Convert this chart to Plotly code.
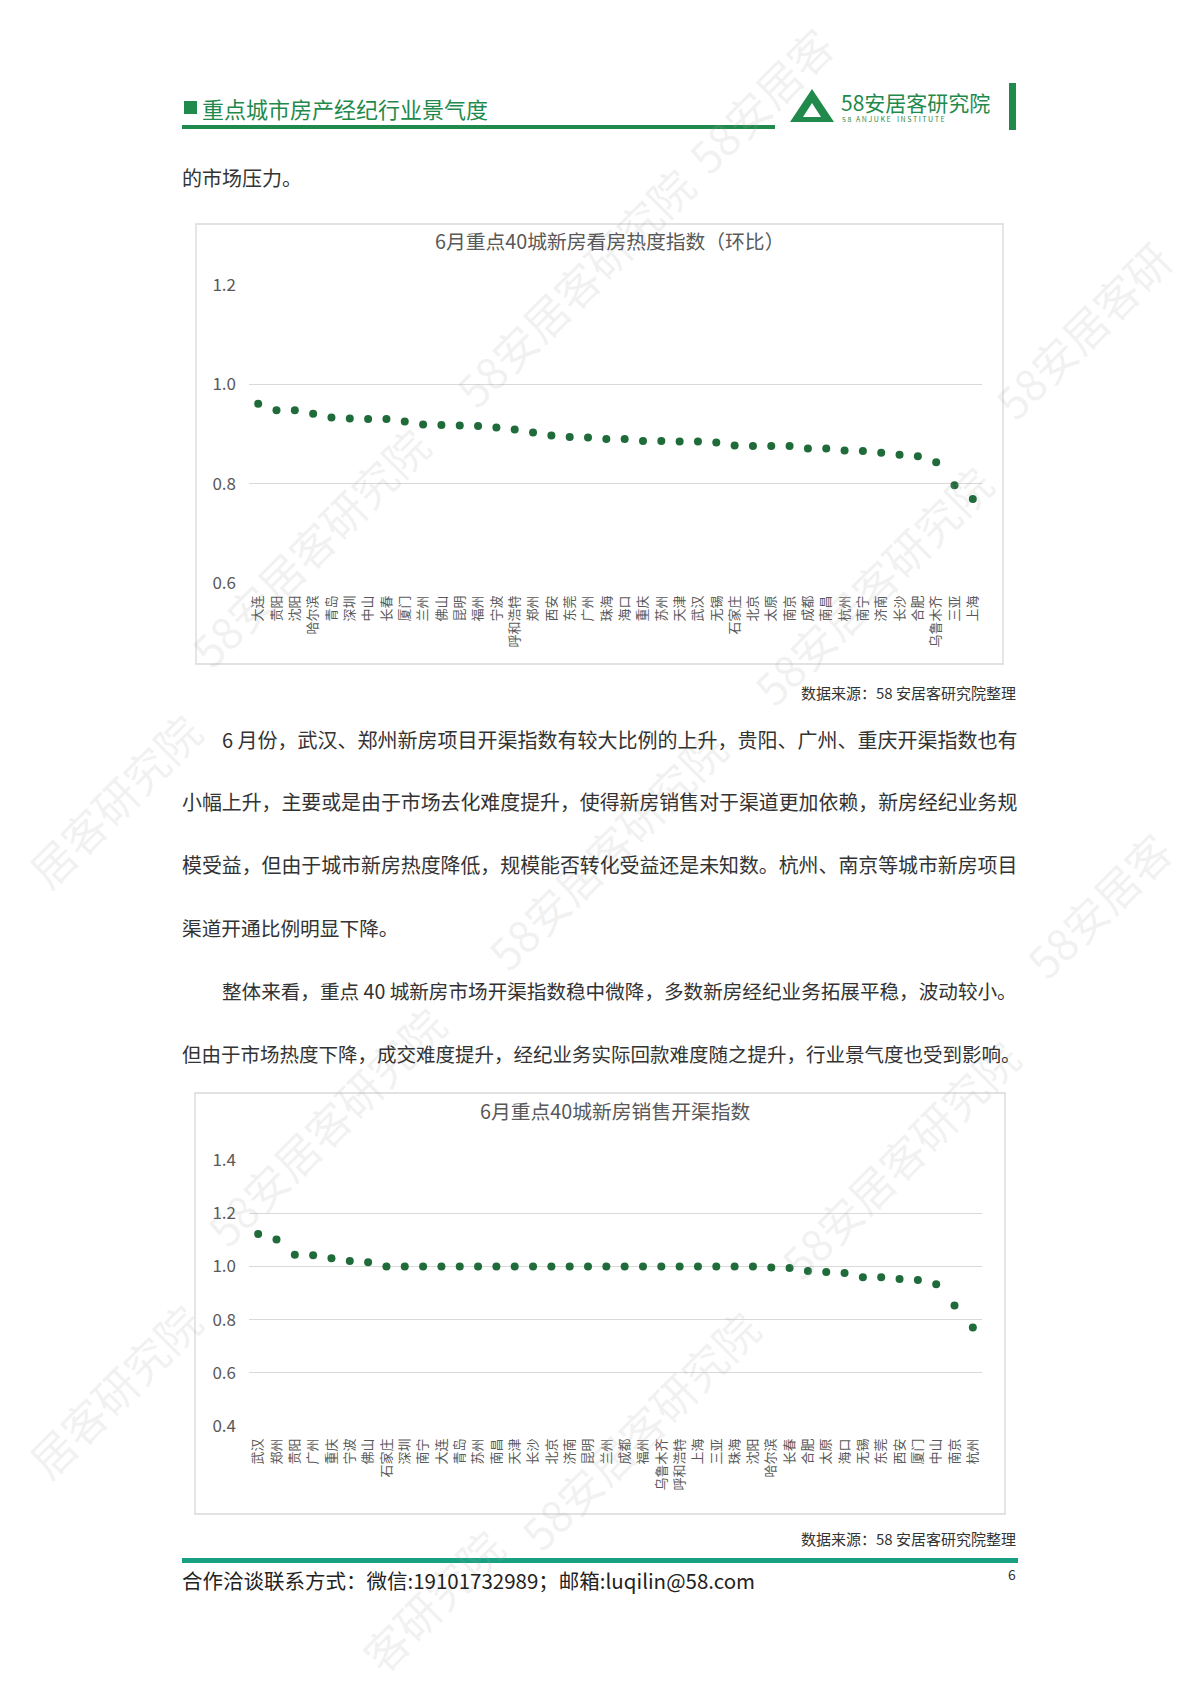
import plotly.graph_objects as go

# the page body has an 8px margin; the figure is sized so the page fills the window exactly
PAGE_W, PAGE_H = 1200, 1698
BODY = 8
W, H = PAGE_W - 2 * BODY, PAGE_H - 2 * BODY
FONT = "Noto Sans CJK SC"

# ---------------- data ----------------
cities_view = ["大连", "贵阳", "沈阳", "哈尔滨", "青岛", "深圳", "中山", "长春", "厦门", "兰州",
               "佛山", "昆明", "福州", "宁波", "呼和浩特", "郑州", "西安", "东莞", "广州", "珠海",
               "海口", "重庆", "苏州", "天津", "武汉", "无锡", "石家庄", "北京", "太原", "南京",
               "成都", "南昌", "杭州", "南宁", "济南", "长沙", "合肥", "乌鲁木齐", "三亚", "上海"]
view_index = [0.961, 0.948, 0.948, 0.941, 0.933, 0.931, 0.930, 0.930, 0.925, 0.919,
              0.918, 0.917, 0.916, 0.913, 0.909, 0.903, 0.897, 0.894, 0.893, 0.890,
              0.890, 0.886, 0.886, 0.885, 0.885, 0.883, 0.877, 0.876, 0.876, 0.876,
              0.871, 0.871, 0.867, 0.866, 0.862, 0.858, 0.855, 0.843, 0.797, 0.769]

cities_channel = ["武汉", "郑州", "贵阳", "广州", "重庆", "宁波", "佛山", "石家庄", "深圳", "南宁",
                  "大连", "青岛", "苏州", "南昌", "天津", "长沙", "北京", "济南", "昆明", "兰州",
                  "成都", "福州", "乌鲁木齐", "呼和浩特", "上海", "三亚", "珠海", "沈阳", "哈尔滨", "长春",
                  "合肥", "太原", "海口", "无锡", "东莞", "西安", "厦门", "中山", "南京", "杭州"]
channel_index = [1.122, 1.101, 1.044, 1.042, 1.031, 1.020, 1.016, 1.000, 1.000, 1.000,
                 1.000, 1.000, 1.000, 1.000, 1.000, 1.000, 1.000, 1.000, 1.000, 1.000,
                 1.000, 1.000, 1.000, 1.000, 1.000, 1.000, 1.000, 1.000, 0.996, 0.994,
                 0.983, 0.979, 0.975, 0.959, 0.959, 0.953, 0.949, 0.933, 0.853, 0.770]

title_view = "6月重点40城新房看房热度指数（环比）"
title_channel = "6月重点40城新房销售开渠指数"
source_text = "数据来源：58 安居客研究院整理"


def px(x):
    return (x - BODY) / W


def py(y):
    return 1 - (y - BODY) / H


GREEN = "#1f8a4c"
DOT = "#1f6b3a"
GRAY = "#595959"
GRID = "#d9d9d9"

fig = go.Figure()
fig.add_trace(go.Scatter(x=cities_view, y=view_index, mode="markers",
                         marker=dict(size=8, color=DOT), xaxis="x", yaxis="y",
                         showlegend=False, hoverinfo="x+y"))
fig.add_trace(go.Scatter(x=cities_channel, y=channel_index, mode="markers",
                         marker=dict(size=8, color=DOT), xaxis="x2", yaxis="y2",
                         showlegend=False, hoverinfo="x+y"))

xcommon = dict(type="category", showgrid=False, showline=False, zeroline=False, ticks="",
               tickangle=-90, tickfont=dict(family=FONT, size=13, color=GRAY),
               ticklabelstandoff=9, fixedrange=True, automargin=False,
               range=[-0.5, 39.5], autorange=False)
ycommon = dict(showgrid=True, gridcolor=GRID, gridwidth=1.3, showline=False, zeroline=False,
               ticks="", dtick=0.2, tickformat=".1f",
               tickfont=dict(family=FONT, size=17, color=GRAY), ticklabelstandoff=12,
               fixedrange=True, automargin=False)

fig.update_layout(
    width=W, height=H, autosize=False,
    margin=dict(l=0, r=0, t=0, b=0, pad=0, autoexpand=False),
    showlegend=False,
    paper_bgcolor="white", plot_bgcolor="white",
    font=dict(family=FONT, color="#333333"),
    xaxis=dict(domain=[px(249), px(982)], anchor="y", **xcommon),
    yaxis=dict(domain=[py(583), py(285)], anchor="x", range=[0.6, 1.2], **ycommon),
    xaxis2=dict(domain=[px(249), px(982)], anchor="y2", **xcommon),
    yaxis2=dict(domain=[py(1426), py(1160)], anchor="x2", range=[0.4, 1.4], **ycommon),
)

shapes = []
annotations = []


def rect(x0, y0, x1, y1, fill=None, line=None):
    d = dict(type="rect", xref="paper", yref="paper", x0=px(x0), x1=px(x1),
             y0=py(y1), y1=py(y0))
    if fill:
        d["fillcolor"] = fill
        d["line"] = dict(width=0)
    if line:
        d["line"] = dict(color=line, width=1.3)
    shapes.append(d)


# chart borders
rect(196, 224, 1003, 664, line=GRID)
rect(195, 1093, 1005, 1514, line=GRID)

# header
rect(184, 101, 197, 114, fill=GREEN)
rect(182, 125, 775, 129, fill=GREEN)
rect(1009, 83, 1016, 130, fill=GREEN)
# logo
shapes.append(dict(type="path", xref="paper", yref="paper",
                   path=f"M {px(790)},{py(122)} L {px(812)},{py(89)} L {px(834)},{py(122)} Z",
                   fillcolor=GREEN, line=dict(width=0)))
shapes.append(dict(type="path", xref="paper", yref="paper",
                   path=f"M {px(803)},{py(117)} L {px(812)},{py(103)} L {px(821)},{py(117)} Z",
                   fillcolor="white", line=dict(width=0)))
# footer line
rect(182, 1558, 1018, 1563, fill="#17a082")


def text(x, y, s, size, color="#333333", xanchor="left", **kw):
    annotations.append(dict(x=px(x), y=py(y), xref="paper", yref="paper", text=s,
                            showarrow=False, xanchor=xanchor, yanchor="middle",
                            font=dict(family=FONT, size=size, color=color), **kw))


# watermarks (drawn first so that the page text sits on top)
wm = [("58安居客", 760, 100), ("58安居客研究院", 574, 287), ("58安居客研", 1082, 330),
      ("58安居客研究院", 309, 547), ("58安居客研究院", 872, 585), ("居客研究院", 114, 800),
      ("58安居客研究院", 606, 850), ("58安居客", 1098, 905), ("58安居客研究院", 325, 1126),
      ("58安居客研究院", 899, 1159), ("居客研究院", 114, 1390), ("58安居客研究院", 639, 1430),
      ("客研究院", 432, 1600)]
for (s, wx, wy) in wm:
    annotations.append(dict(x=px(wx), y=py(wy), xref="paper", yref="paper",
                            text=s, showarrow=False, textangle=-45,
                            xanchor="center", yanchor="middle",
                            font=dict(family=FONT, size=44, color="rgba(170,170,170,0.16)")))

text(200, 108, "重点城市房产经纪行业景气度", 22, GREEN)
text(839, 102, "58安居客研究院", 21, GREEN)
text(840, 119, "5 8   A N J U K E    I N S T I T U T E", 7, GREEN)

text(180, 177, "的市场压力。", 20)
text(609, 240, title_view, 19.8, GRAY, xanchor="center")
text(1018, 693, source_text, 15, xanchor="right")

text(220, 739, "6 月份，武汉、郑州新房项目开渠指数有较大比例的上升，贵阳、广州、重庆开渠指数也有", 20)
text(180, 801, "小幅上升，主要或是由于市场去化难度提升，使得新房销售对于渠道更加依赖，新房经纪业务规", 19.9)
text(180, 864, "模受益，但由于城市新房热度降低，规模能否转化受益还是未知数。杭州、南京等城市新房项目", 19.9)
text(180, 927, "渠道开通比例明显下降。", 19.7)
text(220, 990, "整体来看，重点 40 城新房市场开渠指数稳中微降，多数新房经纪业务拓展平稳，波动较小。", 19.6)
text(180, 1053, "但由于市场热度下降，成交难度提升，经纪业务实际回款难度随之提升，行业景气度也受到影响。", 19.5)

text(615, 1110, title_channel, 19.8, GRAY, xanchor="center")
text(1018, 1538, source_text, 15, xanchor="right")
text(180, 1580, "合作洽谈联系方式：微信:19101732989；邮箱:luqilin@58.com", 20.5, "#222222")
text(1018, 1574, "6", 14, xanchor="right")

fig.update_layout(shapes=shapes, annotations=annotations)
fig.write_html("out.html")
